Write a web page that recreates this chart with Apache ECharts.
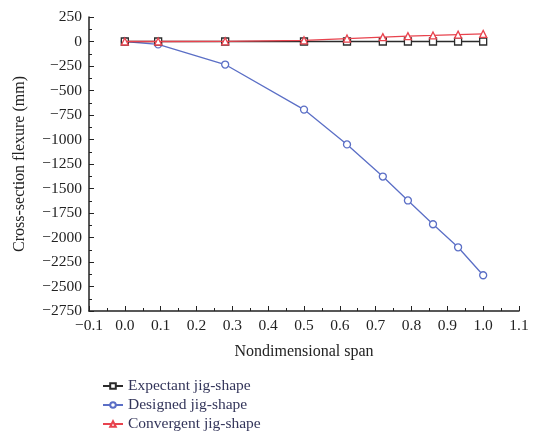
<!DOCTYPE html>
<html>
<head>
<meta charset="utf-8">
<style>
  html, body { margin: 0; padding: 0; background: #fff; }
  #main { width: 533px; height: 434px; }
</style>
<script src="https://cdn.jsdelivr.net/npm/echarts@6/dist/echarts.min.js"></script>
</head>
<body>
<div id="main"></div>
<script>
// span positions along the wing
let span = [0, 0.093, 0.28, 0.5, 0.62, 0.72, 0.79, 0.86, 0.93, 1.0];
let expectant = [0, 0, 0, 0, 0, 0, 0, 0, 0, 0];
let designed = [0, -30, -235, -695, -1050, -1378, -1622, -1865, -2100, -2385];
let convergent = [0, 0, 2, 12, 30, 45, 55, 62, 70, 78];

let names = ["Expectant jig-shape", "Designed jig-shape", "Convergent jig-shape"];
let colors = ["#2b2b2b", "#5b6fc6", "#e8434e"];
let symbols = ["rect", "circle", "triangle"];

let dom = document.getElementById("main");
let myChart = echarts.init(dom, null, { renderer: "canvas" });

let minus = (s) => s.replace("-", "\u2212");
let font = "Liberation Serif";

function pairs(ys) {
    return span.map((x, i) => [x, ys[i]]);
}

let seriesData = [expectant, designed, convergent];

let option = {
    animation: false,
    textStyle: { fontFamily: font },
    grid: { left: 89, right: 14, top: 17, bottom: 123 },
    legend: {
        orient: "vertical",
        left: 102,
        top: 378,
        height: 60,
        padding: 0,
        itemGap: 3,
        itemWidth: 20,
        itemHeight: 7,
        textStyle: { fontFamily: font, fontSize: 15.5, color: "#33355a" },
        data: names,
    },
    xAxis: {
        type: "value",
        min: -0.1,
        max: 1.1,
        interval: 0.1,
        name: "Nondimensional span",
        nameLocation: "middle",
        nameGap: 33,
        nameTextStyle: { fontFamily: font, fontSize: 16, color: "#222" },
        axisLine: { onZero: false, lineStyle: { color: "#222", width: 1.5 } },
        axisTick: { inside: true, length: 5, lineStyle: { color: "#222" } },
        minorTick: { show: true, splitNumber: 2, length: 3, lineStyle: { color: "#222" } },
        splitLine: { show: false },
        axisLabel: {
            fontFamily: font,
            fontSize: 15.5,
            color: "#222",
            margin: 7,
            formatter: (v) => minus((Math.abs(v) < 1e-9 ? 0 : v).toFixed(1)),
        },
    },
    yAxis: {
        type: "value",
        min: -2750,
        max: 250,
        interval: 250,
        name: "Cross-section flexure (mm)",
        nameLocation: "middle",
        nameGap: 61,
        nameTextStyle: { fontFamily: font, fontSize: 16, color: "#222" },
        axisLine: { show: true, onZero: false, lineStyle: { color: "#222", width: 1.5 } },
        axisTick: { show: true, inside: true, length: 5, lineStyle: { color: "#222" } },
        minorTick: { show: true, splitNumber: 2, length: 3, lineStyle: { color: "#222" } },
        splitLine: { show: false },
        axisLabel: {
            fontFamily: font,
            fontSize: 15.5,
            color: "#222",
            margin: 7,
            formatter: (v) => minus(String(v)),
        },
    },
    series: seriesData.map((ys, i) => ({
        name: names[i],
        type: "line",
        data: pairs(ys),
        symbol: symbols[i],
        symbolSize: 7,
        showAllSymbol: true,
        z: i === 1 ? 2 : 3 + i,
        lineStyle: { color: colors[i], width: 1.3 },
        itemStyle: { color: "#fff", borderColor: colors[i], borderWidth: 1.3 },
    })),
};

myChart.setOption(option);
window.addEventListener("resize", myChart.resize);
</script>
</body>
</html>
